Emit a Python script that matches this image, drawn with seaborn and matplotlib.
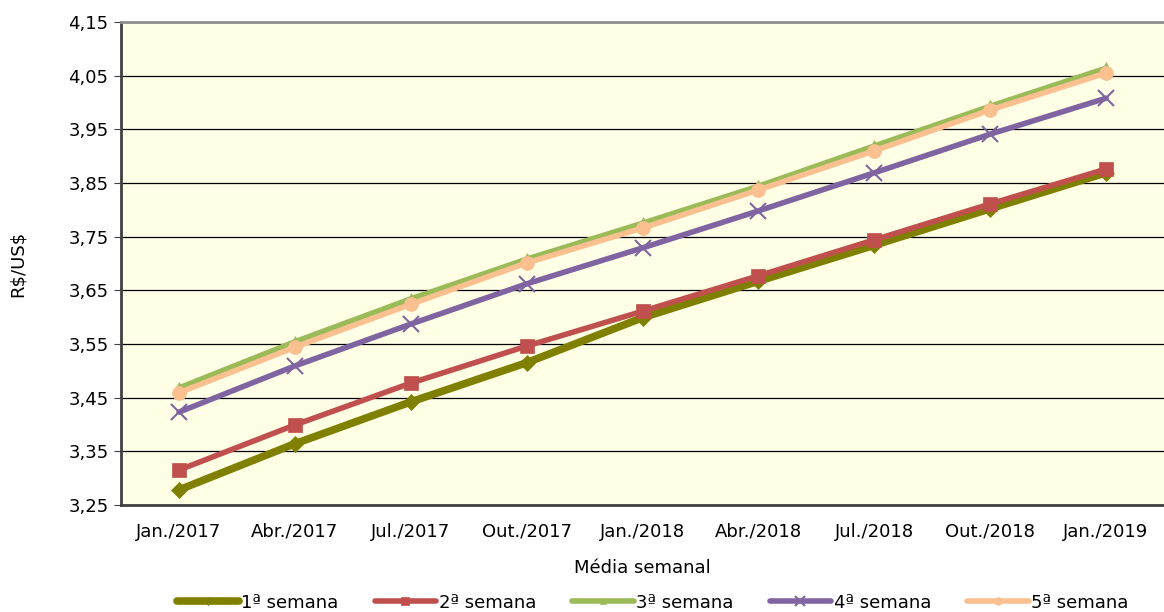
import numpy as np
import pandas as pd
import matplotlib
matplotlib.use("Agg")
import matplotlib.pyplot as plt
import seaborn as sns

months = ["Jan./2017", "Abr./2017", "Jul./2017", "Out./2017", "Jan./2018",
          "Abr./2018", "Jul./2018", "Out./2018", "Jan./2019"]
semana1 = [3.278, 3.364, 3.442, 3.515, 3.599, 3.667, 3.734, 3.802, 3.869]
semana2 = [3.315, 3.399, 3.477, 3.546, 3.611, 3.677, 3.744, 3.811, 3.876]
semana3 = [3.468, 3.554, 3.634, 3.708, 3.775, 3.844, 3.919, 3.993, 4.064]
semana4 = [3.423, 3.509, 3.587, 3.662, 3.729, 3.798, 3.869, 3.941, 4.008]
semana5 = [3.459, 3.544, 3.624, 3.701, 3.766, 3.837, 3.910, 3.986, 4.055]
series_names = ["1ª semana", "2ª semana", "3ª semana", "4ª semana", "5ª semana"]
y_ticks = [3.25, 3.35, 3.45, 3.55, 3.65, 3.75, 3.85, 3.95, 4.05, 4.15]

colors = ["#808000", "#C0504D", "#9BBB59", "#8064A2", "#FAC090"]
markers = ["D", "s", "^", "x", "o"]
widths = [5.5, 4, 4, 4, 4]
msizes = [8, 10, 9, 12, 10]

rows = []
for name, vals in zip(series_names, [semana1, semana2, semana3, semana4, semana5]):
    for i, v in enumerate(vals):
        rows.append({"pos": i, "mes": months[i], "serie": name, "valor": v})
df = pd.DataFrame(rows)

sns.set_style("white")
plt.rcParams["font.family"] = ["DejaVu Sans"]
plt.rcParams["text.color"] = "black"
plt.rcParams["axes.labelcolor"] = "black"
plt.rcParams["xtick.color"] = "black"
plt.rcParams["ytick.color"] = "black"

fs = 13

fig = plt.figure(figsize=(11.64, 6.12), dpi=100)
ax = fig.add_axes([0.104, 0.175, 0.896, 0.789])
ax.set_facecolor("#FFFFE6")

for name, c, m, w, ms in zip(series_names, colors, markers, widths, msizes):
    sub = df[df["serie"] == name]
    sns.lineplot(data=sub, x="pos", y="valor", ax=ax, color=c, marker=m,
                 linewidth=w, markersize=ms, markeredgecolor=c,
                 markeredgewidth=1.5 if m == "x" else 0.5, label=name,
                 sort=False, zorder=3)

ax.set_ylim(3.25, 4.15)
ax.set_yticks(y_ticks)
ax.set_yticklabels([f"{t:.2f}".replace(".", ",") for t in y_ticks], fontsize=fs)
ax.set_xlim(-0.5, 8.45)
ax.set_xticks(range(len(months)))
ax.set_xticklabels(months, fontsize=fs)
ax.set_xticks(np.arange(-0.5, len(months), 1), minor=True)
ax.tick_params(axis="x", which="major", length=0, pad=13)
ax.tick_params(axis="x", which="minor", length=5, color="#404040")
ax.tick_params(axis="y", length=5, color="#404040", left=True, pad=4)
ax.grid(axis="y", color="black", linewidth=0.9)
ax.set_axisbelow(True)

for s in ["left", "bottom"]:
    ax.spines[s].set_color("#404040")
    ax.spines[s].set_linewidth(2)
ax.spines["top"].set_color("#909090")
ax.spines["top"].set_linewidth(2)
ax.spines["right"].set_visible(False)

ax.set_xlabel("Média semanal", fontsize=fs, labelpad=13)
ax.set_ylabel("R\\$/US\\$", fontsize=fs, labelpad=30)

leg = ax.legend(loc="upper center", bbox_to_anchor=(0.51, -0.15), ncol=5,
                frameon=False, fontsize=fs, handlelength=3.4,
                columnspacing=2.0, handletextpad=0.15, markerscale=0.55)

fig.savefig("out.png", dpi=100)
